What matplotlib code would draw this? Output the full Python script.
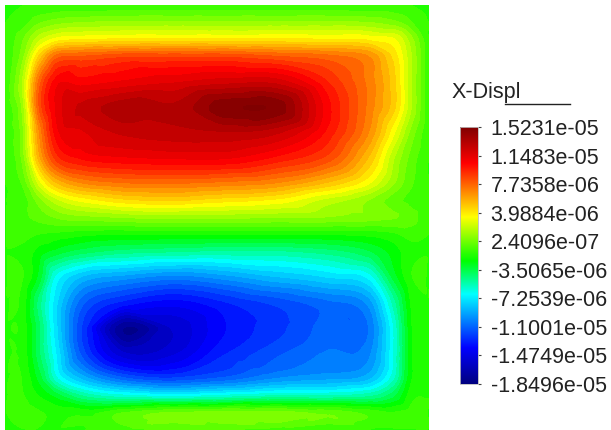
import numpy as np
import matplotlib
matplotlib.use("Agg")
import matplotlib.pyplot as plt
import matplotlib.tri as mtri
from matplotlib.colors import LinearSegmentedColormap, Normalize
from matplotlib.cm import ScalarMappable
from matplotlib.lines import Line2D

plt.rcParams['font.family'] = ['Liberation Sans', 'DejaVu Sans']

title = "X-Displ"
tick_labels = ['1.5231e-05', '1.1483e-05', '7.7358e-06', '3.9884e-06', '2.4096e-07',
               '-3.5065e-06', '-7.2539e-06', '-1.1001e-05', '-1.4749e-05', '-1.8496e-05']
vmin, vmax = -1.8496e-05, 1.5231e-05

# sample positions (x: left->right, y: top->bottom), normalized square
xs = [0.0, 0.04, 0.08, 0.12, 0.18, 0.28, 0.40, 0.52, 0.64, 0.76, 0.86, 0.92, 0.96, 1.0]
ys = [1.0, 0.96, 0.92, 0.88, 0.82, 0.76, 0.70, 0.64, 0.58, 0.54, 0.50,
      0.46, 0.42, 0.36, 0.30, 0.24, 0.18, 0.12, 0.08, 0.04, 0.0]

# X-displacement values (units of 1e-6), one row per ys entry
displ = [
    [-1.3, -1.3, -1.3, -1.3, -1.3, -1.3, -1.3, -1.3, -1.3, -1.3, -1.3, -1.3, -1.3, -1.3],
    [-1.3, -1.0, 0.0, 0.5, 0.8, 1.0, 1.0, 1.0, 1.0, 1.0, 0.8, 0.3, -0.6, -1.3],
    [-1.3, 0.0, 2.0, 3.2, 3.6, 3.8, 3.8, 3.8, 3.8, 3.7, 3.5, 3.0, 1.0, -1.3],
    [-1.3, 0.5, 4.5, 7.5, 8.0, 8.5, 8.5, 8.5, 8.0, 7.5, 6.5, 4.0, 1.5, -1.3],
    [-1.3, 1.5, 7.5, 10.5, 10.5, 11.0, 11.5, 12.0, 12.0, 9.5, 7.0, 4.5, 1.5, -1.3],
    [-1.3, 1.0, 8.0, 11.0, 12.5, 13.5, 13.2, 15.0, 15.0, 10.5, 7.0, 4.5, 1.5, -1.3],
    [-1.3, 0.5, 6.5, 10.5, 11.5, 12.5, 12.8, 13.0, 12.5, 10.0, 6.5, 3.0, 0.5, -1.3],
    [-1.3, 0.3, 5.5, 9.0, 10.3, 10.8, 11.0, 11.0, 10.0, 8.5, 5.0, 1.5, -0.2, -1.3],
    [-1.3, -0.5, 2.5, 5.0, 6.5, 7.2, 7.3, 7.0, 6.5, 5.0, 3.0, 0.8, -0.5, -1.3],
    [-1.3, -1.0, 0.5, 2.0, 3.2, 4.2, 4.5, 4.0, 3.5, 2.0, 0.8, -0.3, -0.8, -1.3],
    [-1.3, -0.8, -0.3, 0.2, 0.6, 0.9, 1.0, 1.0, 0.9, 0.8, 0.5, 0.2, -0.3, -1.3],
    [-1.3, -1.0, -1.3, -1.5, -1.8, -2.0, -2.0, -2.0, -2.0, -2.0, -1.8, -1.4, -1.0, -1.3],
    [-1.3, -1.5, -2.3, -3.0, -3.8, -4.5, -4.8, -5.0, -5.0, -4.5, -3.5, -2.3, -1.5, -1.3],
    [-1.3, -1.2, -3.0, -6.5, -8.5, -9.5, -10.2, -9.5, -8.5, -7.7, -6.7, -3.0, -1.3, -1.3],
    [-1.3, -1.5, -4.5, -7.5, -11.0, -13.0, -13.8, -12.8, -11.8, -10.8, -9.5, -5.0, -1.8, -1.3],
    [-1.3, -1.5, -4.0, -7.5, -12.0, -17.8, -15.5, -13.5, -12.3, -11.0, -10.5, -6.0, -2.0, -1.3],
    [-1.3, -1.5, -4.0, -7.0, -11.5, -15.5, -15.0, -12.8, -11.5, -10.5, -10.0, -6.0, -2.0, -1.3],
    [-1.3, -1.3, -3.0, -6.0, -8.5, -11.0, -11.8, -11.0, -9.8, -9.3, -8.5, -5.5, -2.0, -1.3],
    [-1.3, -1.2, -2.0, -3.0, -4.8, -6.0, -6.5, -6.0, -5.5, -5.5, -5.0, -3.5, -1.5, -1.3],
    [-1.3, -1.0, -1.2, -1.5, -1.5, -0.5, 0.3, 0.5, 0.5, 0.0, -0.8, -1.2, -1.0, -1.3],
    [-1.3, -1.3, -1.3, -1.3, -1.3, -0.8, -0.6, -0.6, -0.8, -1.3, -1.3, -1.3, -1.3, -1.3],
]

# colormap (rainbow as in the reference legend)
cmap = LinearSegmentedColormap.from_list("rainbow_ref", [
    (0.00, (0.0, 0.0, 0.5)),
    (0.14, (0.0, 0.0, 1.0)),
    (0.35, (0.0, 1.0, 1.0)),
    (0.48, (0.0, 1.0, 0.0)),
    (0.65, (1.0, 1.0, 0.0)),
    (0.86, (1.0, 0.0, 0.0)),
    (1.00, (0.5, 0.0, 0.0)),
], N=512)
norm = Normalize(vmin=vmin, vmax=vmax)

X, Y = np.meshgrid(np.array(xs), np.array(ys))
Z = np.array(displ) * 1e-6
tri = mtri.Triangulation(X.ravel(), Y.ravel())
z = Z.ravel()
interp = mtri.CubicTriInterpolator(tri, z, kind='geom')
refiner = mtri.UniformTriRefiner(tri)
tri_f, z_f = refiner.refine_field(z, triinterpolator=interp, subdiv=4)

fig = plt.figure(figsize=(6.11, 4.30), dpi=100)
ax = fig.add_axes([5 / 611, 0.0, 424 / 611, 425 / 430])
levels = np.linspace(vmin, vmax, 48)
ax.tricontourf(tri_f, z_f, levels=levels, cmap=cmap, norm=norm, extend='both')
ax.set_xlim(0, 1)
ax.set_ylim(0, 1)
ax.axis('off')

cax = fig.add_axes([460 / 611, (430 - 384) / 430, 18 / 611, 257 / 430])
sm = ScalarMappable(norm=norm, cmap=cmap)
cb = fig.colorbar(sm, cax=cax)
tick_vals = [float(t) for t in tick_labels]
cb.set_ticks(tick_vals)
cb.set_ticklabels(tick_labels)
cb.ax.tick_params(length=2, width=0.8, color='#444444', pad=7,
                  labelsize=15.5, labelcolor='#222222')
cb.outline.set_edgecolor('#bbbbbb')
cb.outline.set_linewidth(0.6)

fig.text(452 / 611, (430 - 98) / 430, title, fontsize=15.5, color='#222222',
         ha='left', va='baseline')
fig.add_artist(Line2D([505 / 611, 570 / 611], [(430 - 104) / 430] * 2,
                      transform=fig.transFigure, color='#222222', linewidth=1.0))

fig.savefig("out.png", dpi=100)
